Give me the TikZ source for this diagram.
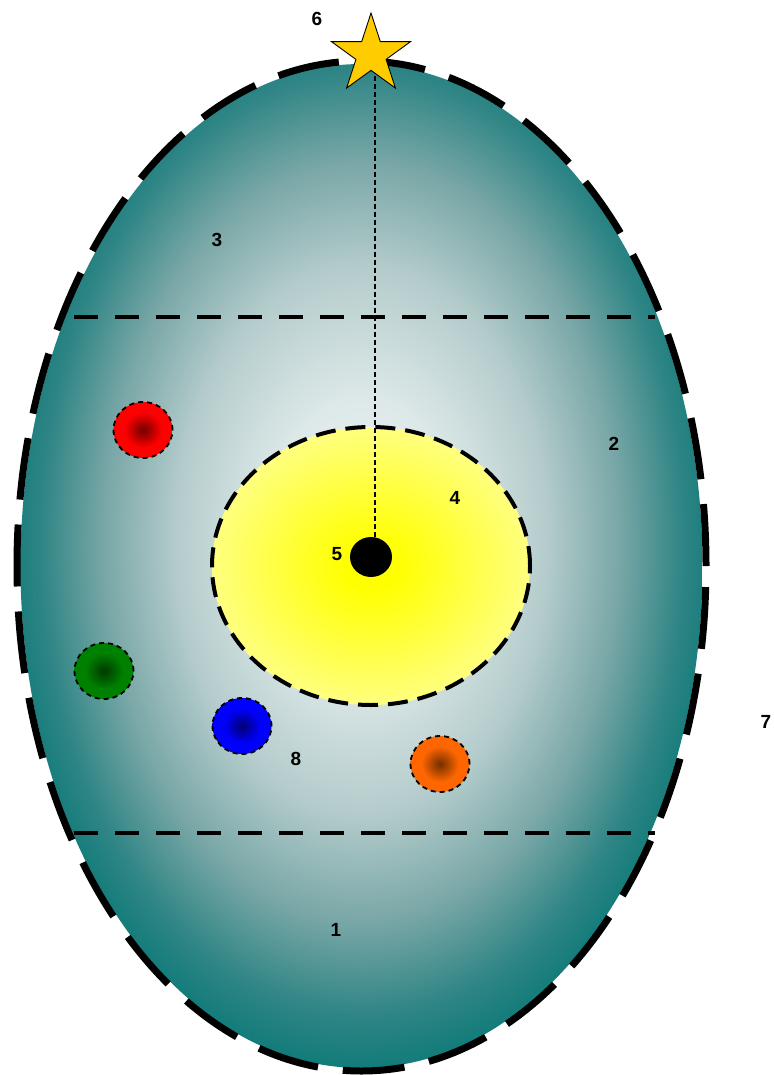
\documentclass[tikz,border=0pt]{standalone}
\usepackage{fontspec}
\setmainfont{Liberation Sans}
\usetikzlibrary{shapes.geometric}
\definecolor{eggA}{HTML}{F2F6F6}
\definecolor{eggB}{HTML}{DDE8E8}
\definecolor{eggC}{HTML}{B5CCCC}
\definecolor{eggD}{HTML}{78A6A6}
\definecolor{eggE}{HTML}{2F8585}
\definecolor{eggF}{HTML}{137C7A}
\definecolor{starfill}{HTML}{FFCC00}
\definecolor{orangeball}{HTML}{FF6600}
\pgfdeclareradialshading{eggshade}{\pgfpoint{0bp}{1.5bp}}{color(0bp)=(eggA); color(7bp)=(eggB); color(13.5bp)=(eggC); color(19bp)=(eggD); color(23.5bp)=(eggE); color(26bp)=(eggF); color(100bp)=(eggF)}
\pgfdeclareradialshading{yellowshade}{\pgfpointorigin}{color(0bp)=(yellow); color(4bp)=(yellow); color(25bp)=(yellow!50!white); color(100bp)=(yellow!50!white)}
\pgfdeclareradialshading{redshade}{\pgfpointorigin}{color(0bp)=(red!45!black); color(16bp)=(red); color(100bp)=(red)}
\pgfdeclareradialshading{greenshade}{\pgfpointorigin}{color(0bp)=(green!50!black!45!black); color(16bp)=(green!50!black); color(100bp)=(green!50!black)}
\pgfdeclareradialshading{blueshade}{\pgfpointorigin}{color(0bp)=(blue!45!black); color(16bp)=(blue); color(100bp)=(blue)}
\pgfdeclareradialshading{orangeshade}{\pgfpointorigin}{color(0bp)=(orangeball!45!black); color(16bp)=(orangeball); color(100bp)=(orangeball)}
\begin{document}
\begin{tikzpicture}[x=1pt,y=-1pt,
  lbl/.style={font=\bfseries\fontsize{19}{19}\selectfont, inner sep=0pt},
  ball/.style={ellipse, inner sep=0pt, minimum width=59pt, minimum height=56pt, draw=black, line width=1.8pt, dash pattern=on 5pt off 4pt},
  hline/.style={line width=4pt, dash pattern=on 24pt off 17pt},
  vline/.style={line width=1.2pt, dash pattern=on 5pt off 3pt}]
\useasboundingbox (0,0) rectangle (773,1075);
% egg fill
\node[ellipse, inner sep=0pt, minimum width=682pt, minimum height=1004pt, shading=eggshade] (eggfill) at (361.5,566) {};
\fill[white] (0,300) rectangle (39,404);
% horizontal bands
\coordinate (h1a) at (74,317); \coordinate (h1b) at (655,317);
\coordinate (h2a) at (74,833); \coordinate (h2b) at (655,833);
\draw[hline] (h1a) -- (h1b);
\draw[hline] (h2a) -- (h2b);
% egg outline
\node[ellipse, inner sep=0pt, minimum width=689pt, minimum height=1010pt, draw=black, line width=7pt, dash pattern=on 62pt off 25pt] (egg) at (361.5,566) {};
% yellow core
\node[ellipse, inner sep=0pt, minimum width=318pt, minimum height=278pt, shading=yellowshade, draw=black, line width=4pt, dash pattern=on 20pt off 10pt] (core) at (371,566) {};
% balls
\node[ball, shading=redshade] (red) at (143,430) {};
\node[ball, shading=greenshade] (green) at (104,671) {};
\node[ball, shading=blueshade] (blue) at (242,726) {};
\node[ball, shading=orangeshade] (orange) at (440,764) {};
% dot
\node[ellipse, inner sep=0pt, minimum width=42pt, minimum height=40pt, fill=black] (dot) at (371,557) {};
% vertical line
\coordinate (vtop) at (375,60);
\coordinate (vbot) at (375,537);
\draw[vline] (vtop) -- (vbot);
% star
\node[star, star points=5, star point ratio=2.618, minimum size=83pt, inner sep=0pt, fill=starfill, draw=black, line width=0.9pt] (star) at (371,54.5) {};
% labels
\node[lbl] (l6) at (317,19) {6};
\node[lbl] (l3) at (217,240) {3};
\node[lbl] (l2) at (614,444) {2};
\node[lbl] (l4) at (455,498) {4};
\node[lbl] (l5) at (337,554) {5};
\node[lbl] (l7) at (766,722) {7};
\node[lbl] (l8) at (296,759) {8};
\node[lbl] (l1) at (336,930) {1};
\end{tikzpicture}
\end{document}
